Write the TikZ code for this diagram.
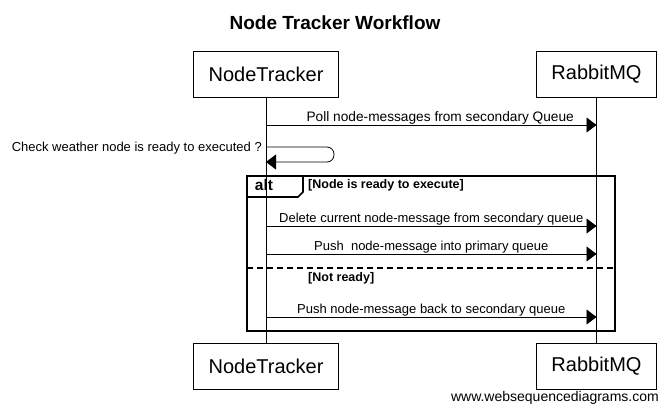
\documentclass[tikz,border=0pt]{standalone}
\usepackage{fontspec}
\setmainfont{Liberation Sans}
\usetikzlibrary{positioning,arrows.meta}

\begin{document}
\begin{tikzpicture}[x=1pt, y=-1pt, node distance=330.5pt,
    actor/.style={rectangle, draw, line width=0.8pt, inner xsep=15pt, minimum height=46pt, font=\fontsize{20}{24}\selectfont},
    life/.style={line width=0.8pt},
    txt/.style={font=\fontsize{13}{15}\selectfont},
    lbl/.style={txt, anchor=base, yshift=4pt},
    msg/.style={-{Triangle[length=10pt,width=15pt]}, line width=0.8pt},
    frame/.style={line width=1.6pt},
    guard/.style={anchor=base west, inner sep=0pt, font=\bfseries\fontsize{12.5}{15}\selectfont}]
    \useasboundingbox (0,0) rectangle (670,413);

    % Title
    \node [font=\bfseries\fontsize{19}{23}\selectfont] (title) at (335,23) {Node Tracker Workflow};

    % Nodes
    \node [actor] (nt) at (266,74) {NodeTracker};
    \node [actor, right of=nt] (mq) {RabbitMQ};
    \node [actor, below of=nt, node distance=292.5pt] (ntb) {NodeTracker};
    \node [actor, below of=mq, node distance=292.5pt] (mqb) {RabbitMQ};

    % Lifelines
    \draw [life] (nt.south) -- (ntb.north);
    \draw [life] (mq.south) -- (mqb.north);

    % Message points
    \coordinate (poll-a) at (nt |- 0,125);
    \coordinate (poll-b) at (mq |- 0,125);
    \coordinate (chk-a) at (nt |- 0,147);
    \coordinate (chk-b) at (nt |- 0,162);
    \coordinate (del-a) at (nt |- 0,226);
    \coordinate (del-b) at (mq |- 0,226);
    \coordinate (push-a) at (nt |- 0,254);
    \coordinate (push-b) at (mq |- 0,254);
    \coordinate (back-a) at (nt |- 0,317);
    \coordinate (back-b) at (mq |- 0,317);

    % Messages
    \draw [msg] (poll-a) -- node [lbl, xshift=9pt, font=\fontsize{13.7}{16}\selectfont] {Poll node-messages from secondary Queue} (poll-b);
    \draw [msg, rounded corners=7pt] (chk-a) -- ++(68,0) -- ++(0,15) -- (chk-b);
    \node [txt, anchor=base east, inner sep=0pt] (chk) at (262,151) {Check weather node is ready to executed ?};
    \draw [msg] (del-a) -- node [lbl] {Delete current node-message from secondary queue} (del-b);
    \draw [msg] (push-a) -- node [lbl] {Push\ \ node-message into primary queue} (push-b);
    \draw [msg] (back-a) -- node [lbl] {Push node-message back to secondary queue} (back-b);

    % Alt frame
    \coordinate (alt-nw) at (247,176);
    \coordinate (alt-se) at (615,331);
    \draw [frame] (alt-nw) rectangle (alt-se);
    \draw [frame] (alt-nw |- 0,197) -- (298,197) -- (303,192) -- (303,176);
    \node [anchor=base, font=\bfseries\fontsize{15.5}{18}\selectfont] (alt) at (264,190) {alt};
    \node [guard] (ready) at (308,188) {[Node is ready to execute]};
    \draw [frame, dash pattern=on 6pt off 4pt] (alt-nw |- 0,268) -- (alt-se |- 0,268);
    \node [guard] (notready) at (308,281) {[Not ready]};

    % Watermark
    \node [anchor=base east, inner sep=0pt, font=\fontsize{14}{17}\selectfont] (wsd) at (659,401) {www.websequencediagrams.com};
\end{tikzpicture}
\end{document}
